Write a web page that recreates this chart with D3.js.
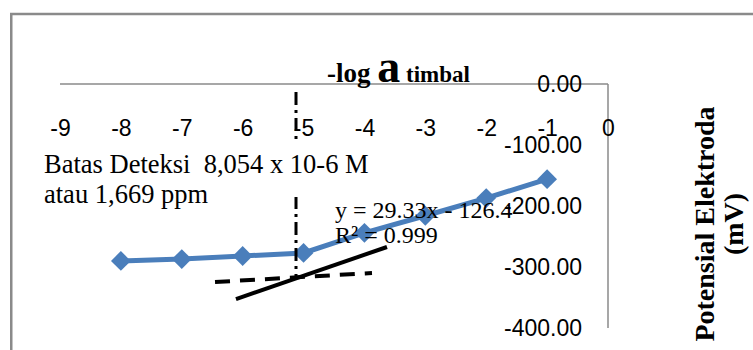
<!DOCTYPE html>
<html>
<head>
<meta charset="utf-8">
<script src="https://cdn.jsdelivr.net/npm/d3@7"></script>
<style>
  body { margin: 0; background: #fff; }
  svg { display: block; }
  .axis text { font-family: "Liberation Sans", Arial, sans-serif; font-size: 23px; fill: #000; }
  .note { font-family: "Liberation Serif", "Times New Roman", serif; fill: #000; }
</style>
</head>
<body>
<div id="chart"></div>
<script>
// -log a timbal vs potensial elektroda
const logA = [-8, -7, -6, -5, -4, -3, -2, -1];
const potential = [-290, -287, -282, -277, -244, -216, -187, -156];
const xTicks = [-9, -8, -7, -6, -5, -4, -3, -2, -1, 0];
const yTicks = [0, -100, -200, -300, -400];

// hand-drawn guides in data units [x, y]
const limitLine = [[-5.124, -13], [-5.124, -316]];
const baseLine = [[-6.454, -324.6], [-3.876, -309.8]];
const slopeLine = [[-6.11, -352.5], [-3.63, -267.2]];

const width = 753, height = 350;
const margin = { top: 84, left: 60, right: 145, bottom: 22 };

const svg = d3.select('#chart').append('svg')
  .attr('width', width)
  .attr('height', height);

// outer frame (runs off the picture on the right and bottom)
svg.append('rect')
  .attr('x', 11.25).attr('y', 14)
  .attr('width', 800).attr('height', 400)
  .attr('fill', 'none')
  .attr('stroke', '#8a8a8a')
  .attr('stroke-width', 2.5);

const x = d3.scaleLinear().domain([-9, 0]).range([margin.left, width - margin.right]);
const y = d3.scaleLinear().domain([0, -400]).range([margin.top, height - margin.bottom]);

// axis lines
svg.append('line')
  .attr('x1', x(-9)).attr('x2', x(0))
  .attr('y1', y(0)).attr('y2', y(0))
  .attr('stroke', '#8a8a8a').attr('stroke-width', 1.5);
svg.append('line')
  .attr('x1', x(0)).attr('x2', x(0))
  .attr('y1', y(0)).attr('y2', y(-400))
  .attr('stroke', '#8a8a8a').attr('stroke-width', 1.5);

const xAxis = svg.append('g')
  .attr('class', 'axis axis-x')
  .attr('transform', `translate(0, ${y(0)})`)
  .call(d3.axisBottom(x).tickValues(xTicks).tickSize(0).tickFormat(d => String(d)));
xAxis.select('.domain').remove();
xAxis.selectAll('text')
  .attr('y', 44)
  .attr('dy', null)
  .attr('dominant-baseline', 'central');

const yAxis = svg.append('g')
  .attr('class', 'axis axis-y')
  .attr('transform', `translate(${x(0)}, 0)`)
  .call(d3.axisLeft(y).tickValues(yTicks).tickSize(0).tickPadding(26).tickFormat(d => d.toFixed(2)));
yAxis.select('.domain').remove();

// series
const line = d3.line().x(d => x(d[0])).y(d => y(d[1]));
const points = logA.map((v, i) => [v, potential[i]]);

svg.append('path')
  .datum(points)
  .attr('fill', 'none')
  .attr('stroke', '#4a7ebb')
  .attr('stroke-width', 5)
  .attr('d', line);

svg.selectAll('.marker')
  .data(points)
  .enter()
  .append('path')
  .attr('class', 'marker')
  .attr('transform', d => `translate(${x(d[0])}, ${y(d[1])})`)
  .attr('d', d3.symbol().type(d3.symbolDiamond2).size(250))
  .attr('fill', '#4a7ebb');

// guides
svg.append('path')
  .datum(limitLine)
  .attr('d', line)
  .attr('stroke', '#000').attr('stroke-width', 3)
  .attr('stroke-dasharray', '13,5,3,5');
svg.append('path')
  .datum(baseLine)
  .attr('d', line)
  .attr('stroke', '#000').attr('stroke-width', 4)
  .attr('stroke-dasharray', '15,10');
svg.append('path')
  .datum(slopeLine)
  .attr('d', line)
  .attr('stroke', '#000').attr('stroke-width', 4);

// text box with white fill hides the guide behind it
svg.append('rect')
  .attr('x', 40).attr('y', 141)
  .attr('width', 336).attr('height', 56)
  .attr('fill', '#fff');
svg.append('text').attr('class', 'note')
  .attr('x', 44).attr('y', 173).style('font-size', '26.5px')
  .attr('xml:space', 'preserve')
  .text('Batas Deteksi  8,054 x 10-6 M');
svg.append('text').attr('class', 'note')
  .attr('x', 44).attr('y', 203).style('font-size', '26.5px')
  .text('atau 1,669 ppm');

svg.append('text').attr('class', 'note')
  .attr('x', 335).attr('y', 218).style('font-size', '24px')
  .text('y = 29.33x - 126.4');
svg.append('text').attr('class', 'note')
  .attr('x', 335).attr('y', 243).style('font-size', '24px')
  .text('R² = 0.999');

const title = svg.append('text').attr('class', 'note')
  .attr('x', 327).attr('y', 82)
  .style('font-weight', 'bold');
title.append('tspan').style('font-size', '27px').text('-log ');
title.append('tspan').style('font-size', '46px').text('a');
title.append('tspan').style('font-size', '23px').text(' timbal');

const yTitle = svg.append('text').attr('class', 'note')
  .attr('transform', 'translate(728, 224) rotate(-90)')
  .attr('text-anchor', 'middle')
  .style('font-weight', 'bold')
  .style('font-size', '28px');
yTitle.append('tspan').attr('x', 0).attr('dy', -14).text('Potensial Elektroda');
yTitle.append('tspan').attr('x', 0).attr('dy', 29).text('(mV)');
</script>
</body>
</html>
